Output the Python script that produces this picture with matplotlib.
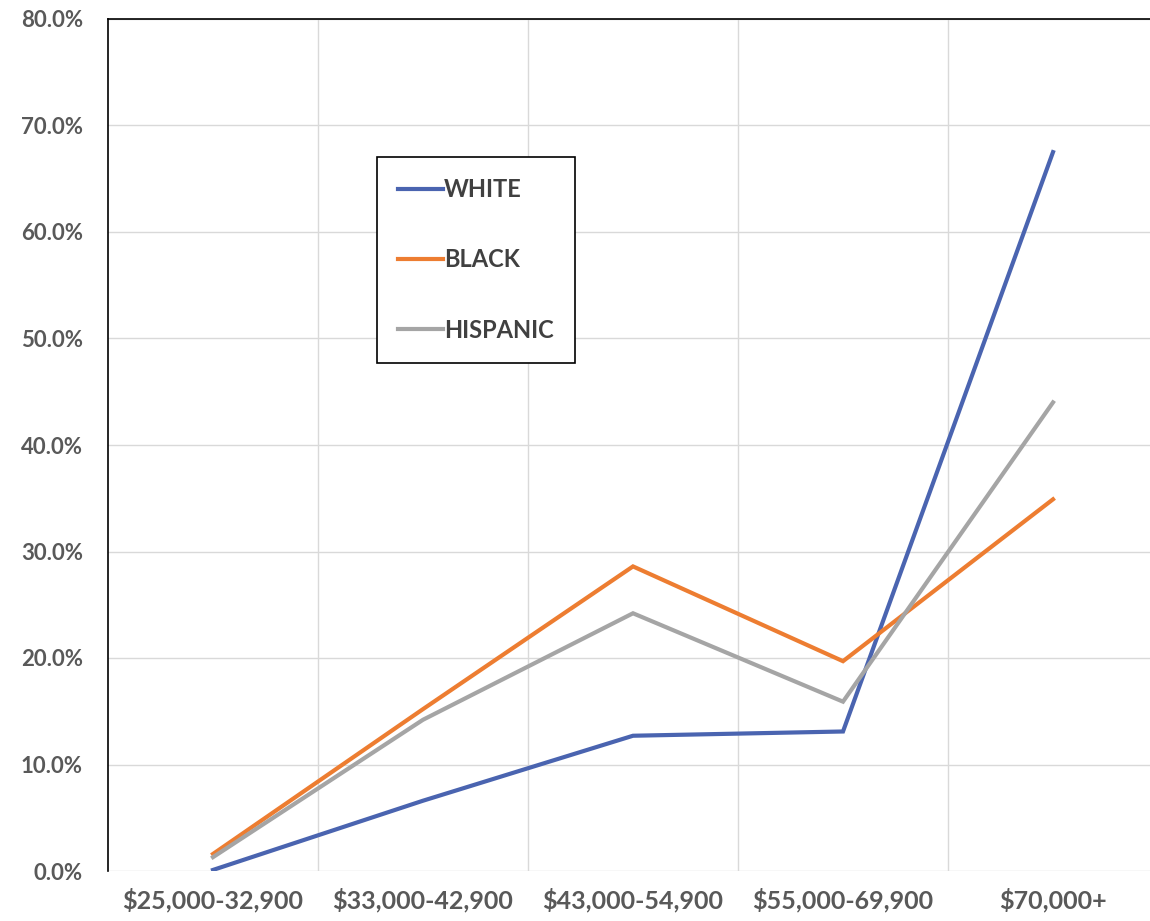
import numpy as np
import matplotlib
matplotlib.use("Agg")
from matplotlib import pyplot as plt
from matplotlib.ticker import FuncFormatter

# categorias de renda
categorias = ["$25,000-32,900", "$33,000-42,900", "$43,000-54,900", "$55,000-69,900", "$70,000+"]

# valores em %
white = [0.1, 6.6, 12.7, 13.1, 67.5]
black = [1.6, 15.2, 28.6, 19.7, 34.9]
hispanic = [1.3, 14.2, 24.2, 15.9, 44.0]

series = ["WHITE", "BLACK", "HISPANIC"]
cores = ["#4a64b0", "#ed7d31", "#a5a5a5"]

plt.rcParams['font.family'] = ['Lato', 'DejaVu Sans']
texto = "#595959"

fig = plt.figure(figsize=(11.5, 9.21), dpi=100)
# eixo vai um pouco alem da borda direita, como no original
ax = fig.add_axes([108 / 1150, 50 / 921, 1050 / 1150, 852 / 921])

x = np.arange(len(categorias))
for nome, valores, cor in zip(series, [white, black, hispanic], cores):
    ax.plot(x, valores, color=cor, lw=3, label=nome, solid_joinstyle='miter')

ax.set_xlim(-0.5, len(categorias) - 0.5)
ax.set_ylim(0, 80)
ax.set_yticks(np.arange(0, 81, 10))
ax.yaxis.set_major_formatter(FuncFormatter(lambda v, p: "{:.1f}%".format(v)))
ax.set_xticks(x)
ax.set_xticklabels(categorias)
ax.set_xticks(np.arange(0.5, len(categorias), 1), minor=True)

ax.grid(True, axis='y', color='#d9d9d9', lw=1)
ax.grid(True, axis='x', which='minor', color='#d9d9d9', lw=1)
ax.set_axisbelow(True)

ax.tick_params(axis='both', which='both', length=0)
ax.tick_params(axis='y', pad=18, labelsize=16, labelcolor=texto)
ax.tick_params(axis='x', pad=12, labelsize=18, labelcolor=texto)
for lbl in ax.get_xticklabels() + ax.get_yticklabels():
    lbl.set_fontweight('bold')

ax.spines['left'].set_color('black')
ax.spines['left'].set_linewidth(1.2)
ax.spines['top'].set_color('black')
ax.spines['top'].set_linewidth(1.2)
ax.spines['bottom'].set_visible(False)
ax.spines['right'].set_visible(False)

leg = ax.legend(loc='upper left', bbox_to_anchor=(377 / 1150, 1 - 157 / 921),
                bbox_transform=fig.transFigure, fancybox=False, framealpha=1,
                edgecolor='black', fontsize=17, labelspacing=2.0,
                handlelength=1.9, handletextpad=0.05, borderpad=0.9,
                borderaxespad=0)
leg.get_frame().set_linewidth(1.2)
for t in leg.get_texts():
    t.set_color("#404040")
    t.set_fontweight('bold')

fig.savefig("out.png", dpi=100)
